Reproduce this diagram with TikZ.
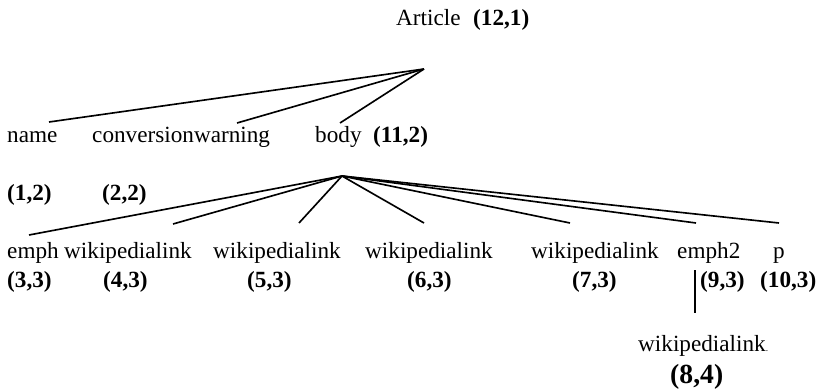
\documentclass[tikz,border=0pt]{standalone}
\usepackage{fontspec}
\setmainfont{Liberation Serif}
\usepackage{tikz}

\begin{document}
\begin{tikzpicture}[x=0.3mm,y=-0.3mm,
  word/.style={anchor=base west,inner sep=0pt,font=\fontsize{19.8}{24}\selectfont},
  idlabel/.style={word,font=\fontsize{19.8}{24}\selectfont\bfseries},
  edge/.style={line width=1.4pt}]
\useasboundingbox (0,0) rectangle (840,390);
\node[word] (article) at (396,26) {Article};
\node[idlabel] (article-n) at (473,26) {(12,1)};
\node[word] (name) at (7,143) {name};
\node[word] (conv) at (92,143) {conversionwarning};
\node[word] (body) at (315,143) {body};
\node[idlabel] (body-n) at (373,143) {(11,2)};
\node[idlabel] (name-n) at (7,200) {(1,2)};
\node[idlabel] (conv-n) at (102,200) {(2,2)};
\node[word] (emph) at (7,258) {emph};
\node[word] (wiki4) at (64,258) {wikipedialink};
\node[word] (wiki5) at (213,258) {wikipedialink};
\node[word] (wiki6) at (365,258) {wikipedialink};
\node[word] (wiki7) at (531,258) {wikipedialink};
\node[word] (emph2) at (677,258) {emph2};
\node[word] (p) at (773,258) {p};
\node[idlabel] (emph-n) at (7,287) {(3,3)};
\node[idlabel] (wiki4-n) at (103,287) {(4,3)};
\node[idlabel] (wiki5-n) at (247,287) {(5,3)};
\node[idlabel] (wiki6-n) at (407,287) {(6,3)};
\node[idlabel] (wiki7-n) at (572,287) {(7,3)};
\node[idlabel] (emph2-n) at (700,287) {(9,3)};
\node[idlabel] (p-n) at (760,287) {(10,3)};
\node[word] (wiki8) at (638,351) {wikipedialink{\fontsize{8}{8}\selectfont.}};
\node[idlabel,font=\fontsize{23.6}{28}\selectfont\bfseries] (wiki8-n) at (670,383) {(8,4)};
\coordinate (article-root) at (424,69);
\coordinate (body-root) at (342,176);
\coordinate (name-in) at (49,122);
\coordinate (conv-in) at (237,123);
\coordinate (body-in) at (340,123);
\coordinate (emph-in) at (29,235);
\coordinate (wiki4-in) at (173,224);
\coordinate (wiki5-in) at (299,223);
\coordinate (wiki6-in) at (424,223);
\coordinate (wiki7-in) at (570,223);
\coordinate (emph2-in) at (696,223);
\coordinate (p-in) at (779,223);
\coordinate (emph2-out) at (695,270);
\coordinate (wiki8-in) at (695,313);
\draw[edge] (article-root) -- (name-in);
\draw[edge] (article-root) -- (conv-in);
\draw[edge] (article-root) -- (body-in);
\draw[edge] (body-root) -- (emph-in);
\draw[edge] (body-root) -- (wiki4-in);
\draw[edge] (body-root) -- (wiki5-in);
\draw[edge] (body-root) -- (wiki6-in);
\draw[edge] (body-root) -- (wiki7-in);
\draw[edge] (body-root) -- (emph2-in);
\draw[edge] (body-root) -- (p-in);
\draw[edge,line width=1pt] (emph2-out) -- (wiki8-in);
\end{tikzpicture}
\end{document}
